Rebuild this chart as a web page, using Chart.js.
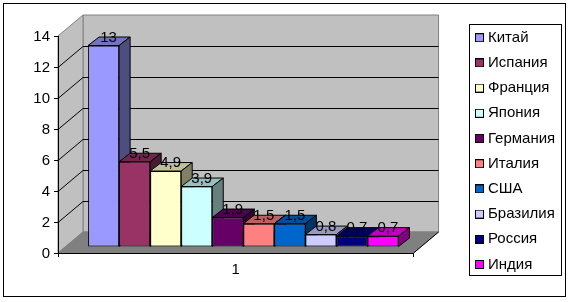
<!DOCTYPE html>
<html>
<head>
<meta charset="utf-8">
<script src="https://cdn.jsdelivr.net/npm/chart.js@4"></script>
<style>
  html, body { margin: 0; padding: 0; background: #fff; }
  canvas { display: block; }
</style>
</head>
<body>
<canvas id="chart" width="570" height="302"></canvas>
<script>
const categories = ['1'];
const countries = ['Китай', 'Испания', 'Франция', 'Япония', 'Германия', 'Италия', 'США', 'Бразилия', 'Россия', 'Индия'];
const shares = [13, 5.5, 4.9, 3.9, 1.9, 1.5, 1.5, 0.8, 0.7, 0.7];
const barColors = ['#9999ff', '#993366', '#ffffcc', '#ccffff', '#660066', '#ff8080', '#0066cc', '#ccccff', '#000080', '#ff00ff'];
const yMax = 14;
const yStep = 2;

const FONT = 'Arial, "Liberation Sans", sans-serif';
// box depth of the plot and of one bar
const WALL_DX = 25, WALL_DY = -21;
const BAR_DX = 11, BAR_DY = -8.5;
// bars stand a little inside the floor
const SHIFT_X = 7.5, SHIFT_Y = -6;

function shade(hex, k) {
  const n = parseInt(hex.slice(1), 16);
  const r = Math.round(((n >> 16) & 255) * k);
  const g = Math.round(((n >> 8) & 255) * k);
  const b = Math.round((n & 255) * k);
  return `rgb(${r},${g},${b})`;
}

function poly(ctx, pts, fill, stroke) {
  ctx.beginPath();
  pts.forEach(([x, y], i) => (i ? ctx.lineTo(x, y) : ctx.moveTo(x, y)));
  ctx.closePath();
  ctx.fillStyle = fill;
  ctx.fill();
  ctx.strokeStyle = stroke;
  ctx.lineWidth = 1;
  ctx.stroke();
}

// legend swatch: lets the text sit closer to the box than the default gap
function swatch(color) {
  const c = document.createElement('canvas');
  c.width = c.height = 9;
  const g = c.getContext('2d');
  g.fillStyle = '#000';
  g.fillRect(0, 0, 9, 9);
  g.fillStyle = color;
  g.fillRect(1, 1, 7, 7);
  return c;
}

const walls = {
  id: 'walls',
  beforeDraw(chart) {
    const { ctx, chartArea: a, scales: { y } } = chart;
    const l = a.left, r = a.right, t = y.getPixelForValue(yMax), b = y.getPixelForValue(0);
    ctx.save();
    // outer frame
    ctx.strokeStyle = '#000';
    ctx.lineWidth = 1;
    ctx.strokeRect(3.5, 3.5, 562, 293);
    // back wall, side wall, floor
    poly(ctx, [[l + WALL_DX, t + WALL_DY], [r + WALL_DX, t + WALL_DY], [r + WALL_DX, b + WALL_DY], [l + WALL_DX, b + WALL_DY]], '#c0c0c0', '#808080');
    poly(ctx, [[l, t], [l + WALL_DX, t + WALL_DY], [l + WALL_DX, b + WALL_DY], [l, b]], '#c0c0c0', '#808080');
    poly(ctx, [[l, b], [l + WALL_DX, b + WALL_DY], [r + WALL_DX, b + WALL_DY], [r, b]], '#808080', '#808080');
    // grid lines over side and back wall
    ctx.strokeStyle = '#000';
    ctx.beginPath();
    for (let v = yStep; v < yMax; v += yStep) {
      const py = Math.round(y.getPixelForValue(v)) + 0.5;
      ctx.moveTo(l, py);
      ctx.lineTo(l + WALL_DX, py + WALL_DY);
      ctx.lineTo(r + WALL_DX, py + WALL_DY);
    }
    ctx.moveTo(r, b);
    ctx.lineTo(r + WALL_DX, b + WALL_DY);
    ctx.stroke();
    // legend frame
    ctx.strokeRect(469.5, 24.5, 92, 251);
    ctx.restore();
  }
};

const bars3d = {
  id: 'bars3d',
  afterLayout(chart) {
    const lg = chart.legend;
    lg.left = 468.3;
    lg.right = 565;
    lg.top = 20;
    lg.bottom = 285;
  },
  beforeDatasetsDraw(chart) {
    const { ctx } = chart;
    ctx.save();
    ctx.translate(SHIFT_X, SHIFT_Y);
    chart.data.datasets.forEach((ds, i) => {
      const el = chart.getDatasetMeta(i).data[0];
      const hw = el.width / 2, l = el.x - hw, r = el.x + hw, t = el.y, b = el.base;
      poly(ctx, [[l, t], [l + BAR_DX, t + BAR_DY], [r + BAR_DX, t + BAR_DY], [r, t]], shade(ds.backgroundColor, 0.75), '#000');
      poly(ctx, [[r, t], [r + BAR_DX, t + BAR_DY], [r + BAR_DX, b + BAR_DY], [r, b]], shade(ds.backgroundColor, 0.5), '#000');
    });
  },
  afterDatasetsDraw(chart) {
    const { ctx } = chart;
    ctx.font = `15px ${FONT}`;
    ctx.fillStyle = '#000';
    ctx.textAlign = 'center';
    ctx.textBaseline = 'middle';
    chart.data.datasets.forEach((ds, i) => {
      const el = chart.getDatasetMeta(i).data[0];
      ctx.fillText(String(ds.data[0]).replace('.', ','), el.x + 5, el.y - 8);
    });
    ctx.restore();
  }
};

new Chart(document.getElementById('chart'), {
  type: 'bar',
  data: {
    labels: categories,
    datasets: countries.map((name, i) => ({
      label: name,
      data: [shares[i]],
      backgroundColor: barColors[i],
      borderColor: '#000',
      borderWidth: 1,
      borderSkipped: false,
      clip: false
    }))
  },
  plugins: [walls, bars3d],
  options: {
    responsive: false,
    animation: false,
    events: [],
    barPercentage: 1,
    categoryPercentage: 0.873,
    // negative bottom gives the legend enough height for one column
    layout: { autoPadding: false, padding: { top: 36, right: 59.5, bottom: -20, left: 0 } },
    scales: {
      x: {
        afterFit(scale) { scale.height = 69; },
        grid: { drawOnChartArea: false, color: '#000', tickLength: 4 },
        border: { color: '#000' },
        ticks: { color: '#000', padding: 4, font: { family: FONT, size: 15 } }
      },
      y: {
        min: 0,
        max: yMax,
        afterFit(scale) { scale.width = 58; },
        grid: { drawOnChartArea: false, color: '#000', tickLength: 4 },
        border: { color: '#000' },
        ticks: { stepSize: yStep, color: '#000', padding: 4, labelOffset: 1, font: { family: FONT, size: 15 } }
      }
    },
    plugins: {
      title: { display: false },
      tooltip: { enabled: false },
      legend: {
        position: 'right',
        align: 'start',
        labels: {
          usePointStyle: true,
          pointStyleWidth: 2,
          padding: 10.2,
          color: '#000',
          font: { family: FONT, size: 15 },
          generateLabels(chart) {
            return Chart.defaults.plugins.legend.labels.generateLabels(chart).map((item, i) => ({
              ...item,
              pointStyle: swatch(barColors[i])
            }));
          }
        }
      }
    }
  }
});
</script>
</body>
</html>
